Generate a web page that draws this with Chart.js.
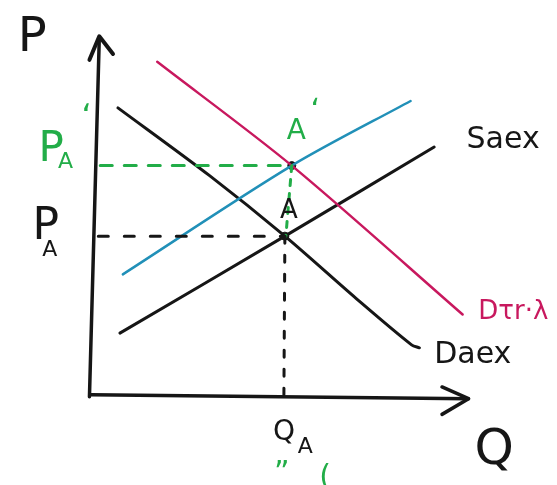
<!DOCTYPE html>
<html>
<head>
<meta charset="utf-8">
<script src="https://cdn.jsdelivr.net/npm/chart.js@4"></script>
<style>
  html, body { margin: 0; padding: 0; background: #fff; }
  #diagram { display: block; }
</style>
</head>
<body>
<canvas id="diagram" width="557" height="485"></canvas>
<script>
// quantity (Q) / price (P) points of each curve, in diagram units
var demandQ = [2.7, 12.0, 19.7, 27.0, 32.6, 33.4];
var demandP = [29.3, 22.4, 16.2, 9.8, 5.1, 4.8];
var supplyQ = [2.9, 19.7, 34.9];
var supplyP = [6.3, 16.2, 25.3];
var supplyNewQ = [3.2, 20.4, 32.5];
var supplyNewP = [12.3, 23.4, 30.0];
var demandNewQ = [6.7, 20.4, 37.8];
var demandNewP = [34.0, 23.4, 8.2];

// equilibria A and A'
var eqA = [19.7, 16.2];
var eqA2 = [20.4, 23.4];

var ink = '#161616';
var blue = '#2190b8';
var magenta = '#c8185e';
var green = '#22ad48';

function pts(qs, ps) {
    var out = [];
    for (var i = 0; i < qs.length; i++) out.push({x: qs[i], y: ps[i]});
    return out;
}

function line(data, color, width, dash, tension) {
    return {
        data: data,
        showLine: true,
        borderColor: color,
        backgroundColor: color,
        borderWidth: width,
        borderDash: dash || [],
        pointRadius: 0,
        tension: tension || 0,
        borderCapStyle: 'round',
        borderJoinStyle: 'round'
    };
}

var datasets = [
    // axes
    line([{x: -0.2, y: -0.2}, {x: 0.8, y: 36.4}], ink, 3.5),
    line([{x: -0.2, y: 34.2}, {x: 0.8, y: 36.6}, {x: 2.2, y: 34.8}], ink, 4),
    line([{x: 0.0, y: 0.0}, {x: 38.4, y: -0.4}], ink, 3.5),
    line([{x: 35.7, y: 0.8}, {x: 38.4, y: -0.4}, {x: 35.7, y: -2.0}], ink, 3.5),
    // guide lines
    line([{x: 0.7, y: eqA[1]}, {x: eqA[0], y: eqA[1]}], ink, 3, [10, 16]),
    line([{x: eqA[0], y: eqA[1]}, {x: eqA[0] - 0.1, y: 0}], ink, 3, [7, 12]),
    line([{x: 0.9, y: eqA2[1]}, {x: eqA2[0], y: eqA2[1]}], green, 3, [12, 12]),
    line([{x: eqA2[0], y: eqA2[1]}, {x: eqA[0] + 0.1, y: eqA[1]}], green, 3, [6, 8]),
    // curves
    line(pts(demandNewQ, demandNewP), magenta, 2.5, null, 0.3),
    line(pts(supplyNewQ, supplyNewP), blue, 2.5, null, 0.3),
    line(pts(supplyQ, supplyP), ink, 3, null, 0.3),
    line(pts(demandQ, demandP), ink, 3, null, 0.3),
    // equilibrium dots
    {data: [{x: eqA[0], y: eqA[1]}, {x: eqA2[0], y: eqA2[1]}], pointRadius: 4,
     backgroundColor: ink, borderColor: ink, showLine: false}
];

// text written on the diagram: [text, q, p, size, color]
var labels = [
    ['P', -7.5, 38.8, 48, ink],
    ['P', -5.4, 27.1, 42, green],
    ['A', -3.4, 24.9, 22, green],
    ['\u02bb', -1.0, 29.8, 32, green],
    ['P', -6.0, 19.3, 44, ink],
    ['A', -5.0, 15.9, 22, ink],
    ['A', 19.9, 28.3, 28, green],
    ['\u02bb', 22.3, 30.4, 30, green],
    ['A', 19.2, 20.1, 26, ink],
    ['Saex', 38.2, 27.5, 30, ink],
    ['D\u03c4r\u00b7\u03bb', 39.4, 9.8, 26, magenta],
    ['Daex', 34.9, 5.6, 30, ink],
    ['Q', 18.5, -2.4, 28, ink],
    ['A', 21.0, -4.2, 22, ink],
    ['Q', 39.0, -3.2, 50, ink],
    ['\u201d', 18.6, -6.6, 30, green],
    ['(', 23.2, -7.0, 30, green]
];

var textPlugin = {
    id: 'handText',
    afterDatasetsDraw: function (chart) {
        var ctx = chart.ctx;
        var xs = chart.scales.x, ys = chart.scales.y;
        ctx.save();
        ctx.textBaseline = 'top';
        ctx.textAlign = 'left';
        labels.forEach(function (l) {
            ctx.font = l[3] + 'px "DejaVu Sans", sans-serif';
            ctx.fillStyle = l[4];
            ctx.fillText(l[0], xs.getPixelForValue(l[1]), ys.getPixelForValue(l[2]));
        });
        ctx.restore();
    }
};

var ctx = document.getElementById('diagram').getContext('2d');
var myChart = new Chart(ctx, {
    type: 'scatter',
    data: {datasets: datasets},
    options: {
        responsive: false,
        animation: false,
        layout: {padding: 0},
        plugins: {legend: {display: false}, tooltip: {enabled: false}},
        scales: {
            x: {type: 'linear', min: -8.8, max: 46.9, display: false},
            y: {type: 'linear', min: -8.7, max: 39.8, display: false}
        }
    },
    plugins: [textPlugin]
});
</script>
</body>
</html>
